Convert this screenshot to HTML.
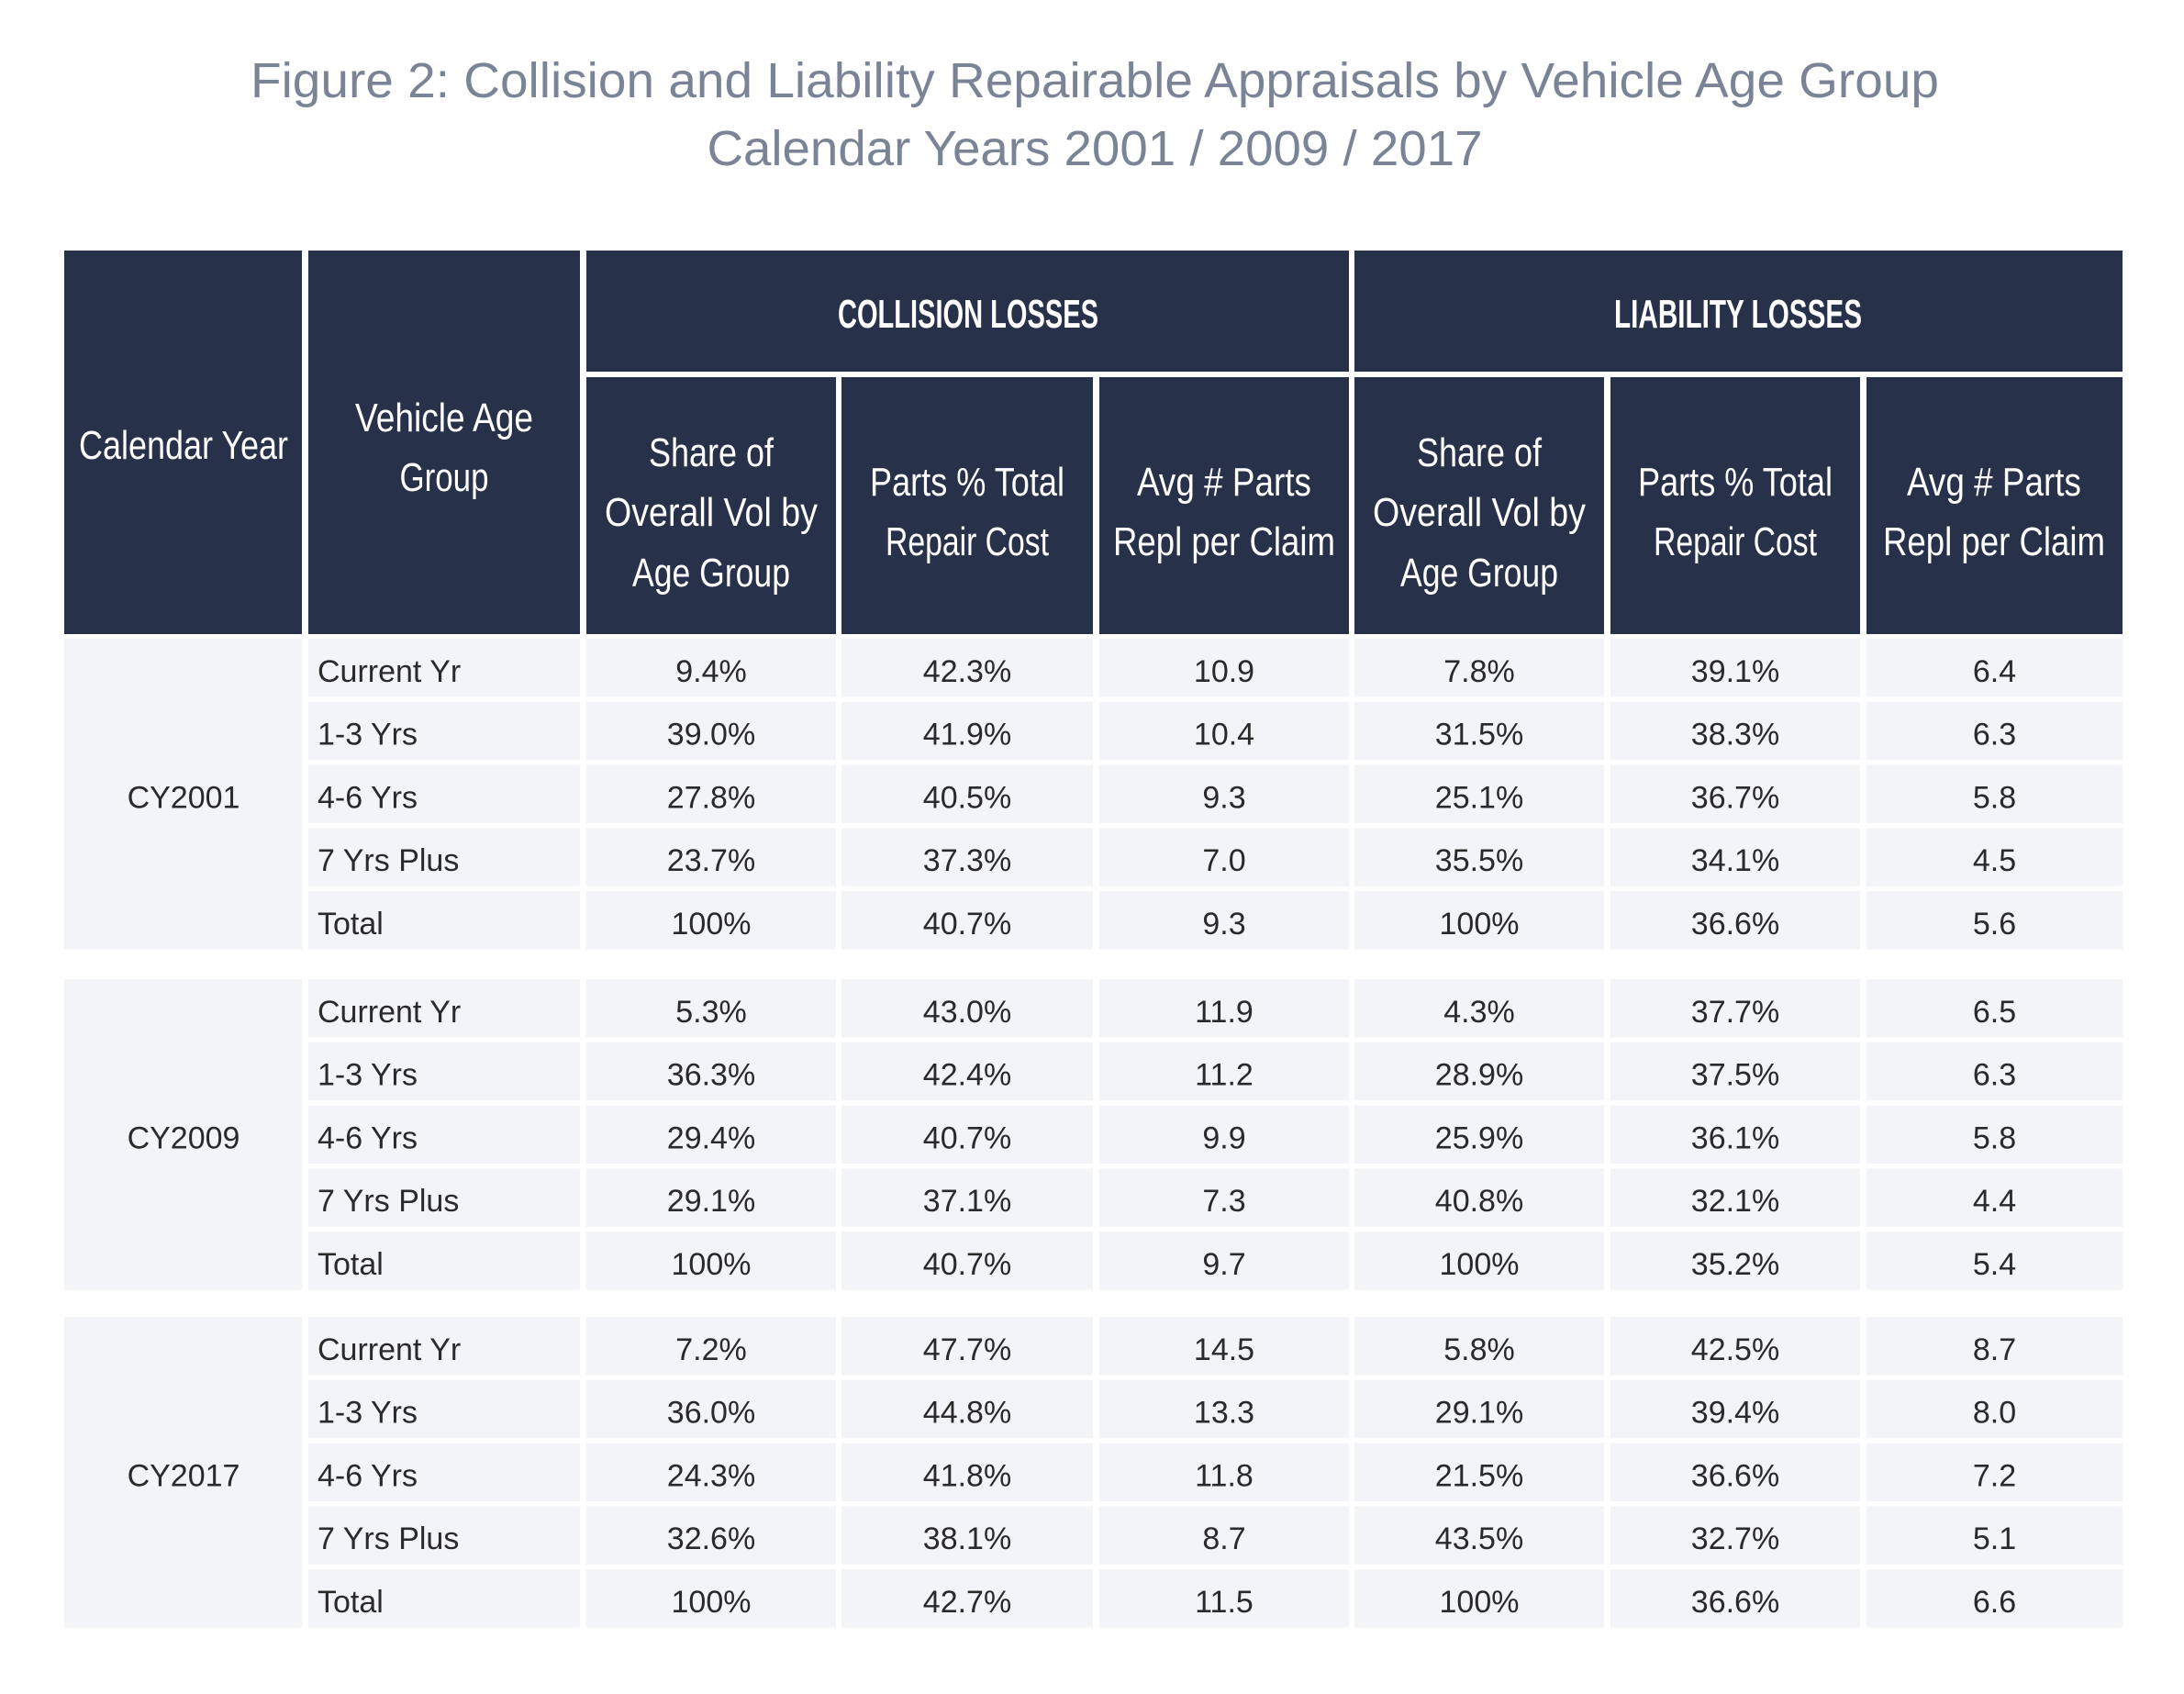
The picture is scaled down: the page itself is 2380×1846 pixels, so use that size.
<!DOCTYPE html>
<html><head><meta charset="utf-8"><style>
html,body{margin:0;padding:0;background:#fff;}
svg{display:block;}
</style></head><body>
<svg width="2380" height="1846" viewBox="0 0 2380 1846" xmlns="http://www.w3.org/2000/svg">
<g font-family="Liberation Sans, sans-serif" fill="#7b8397" font-size="54">
<text x="1193" y="106" text-anchor="middle" textLength="1840" lengthAdjust="spacingAndGlyphs">Figure 2: Collision and Liability Repairable Appraisals by Vehicle Age Group</text>
<text x="1193" y="180" text-anchor="middle" textLength="845" lengthAdjust="spacingAndGlyphs">Calendar Years 2001 / 2009 / 2017</text>
</g>
<g fill="#27324a">
<rect x="70" y="273" width="259" height="418"/>
<rect x="336" y="273" width="296" height="418"/>
<rect x="639" y="273" width="831" height="132"/>
<rect x="1476" y="273" width="837" height="132"/>
<rect x="639" y="411" width="272" height="280"/>
<rect x="917" y="411" width="274" height="280"/>
<rect x="1198" y="411" width="272" height="280"/>
<rect x="1476" y="411" width="272" height="280"/>
<rect x="1755" y="411" width="272" height="280"/>
<rect x="2034" y="411" width="279" height="280"/>
</g>
<g font-family="Liberation Sans Narrow, Liberation Sans, sans-serif" fill="#fff" font-size="44" text-anchor="middle" lengthAdjust="spacingAndGlyphs">
<text x="200" y="500" textLength="228" lengthAdjust="spacingAndGlyphs">Calendar Year</text>
<text x="484" y="470" textLength="194" lengthAdjust="spacingAndGlyphs">Vehicle Age</text>
<text x="484" y="535" textLength="97" lengthAdjust="spacingAndGlyphs">Group</text>
<text x="1055" y="357" font-weight="bold" textLength="284" lengthAdjust="spacingAndGlyphs">COLLISION LOSSES</text>
<text x="1894" y="357" font-weight="bold" textLength="270" lengthAdjust="spacingAndGlyphs">LIABILITY LOSSES</text>
<text x="775" y="508" textLength="136" lengthAdjust="spacingAndGlyphs">Share of</text>
<text x="775" y="573" textLength="232" lengthAdjust="spacingAndGlyphs">Overall Vol by</text>
<text x="775" y="639" textLength="172" lengthAdjust="spacingAndGlyphs">Age Group</text>
<text x="1054" y="540" textLength="212" lengthAdjust="spacingAndGlyphs">Parts % Total</text>
<text x="1054" y="605" textLength="178" lengthAdjust="spacingAndGlyphs">Repair Cost</text>
<text x="1334" y="540" textLength="190" lengthAdjust="spacingAndGlyphs">Avg # Parts</text>
<text x="1334" y="605" textLength="242" lengthAdjust="spacingAndGlyphs">Repl per Claim</text>
<text x="1612" y="508" textLength="136" lengthAdjust="spacingAndGlyphs">Share of</text>
<text x="1612" y="573" textLength="232" lengthAdjust="spacingAndGlyphs">Overall Vol by</text>
<text x="1612" y="639" textLength="172" lengthAdjust="spacingAndGlyphs">Age Group</text>
<text x="1891" y="540" textLength="212" lengthAdjust="spacingAndGlyphs">Parts % Total</text>
<text x="1891" y="605" textLength="178" lengthAdjust="spacingAndGlyphs">Repair Cost</text>
<text x="2173" y="540" textLength="190" lengthAdjust="spacingAndGlyphs">Avg # Parts</text>
<text x="2173" y="605" textLength="242" lengthAdjust="spacingAndGlyphs">Repl per Claim</text>
</g>
<g id="body" font-family="Liberation Sans, sans-serif" font-size="34" fill="#2a2a2a"></g>
</svg>
<script>
(function(){
var ns="http://www.w3.org/2000/svg";
var g=document.getElementById("body");
var cols=[[639,911],[917,1191],[1198,1470],[1476,1748],[1755,2027],[2034,2313]];
var groups=[
 {y:696,name:"CY2001",rows:[
  ["Current Yr","9.4%","42.3%","10.9","7.8%","39.1%","6.4"],
  ["1-3 Yrs","39.0%","41.9%","10.4","31.5%","38.3%","6.3"],
  ["4-6 Yrs","27.8%","40.5%","9.3","25.1%","36.7%","5.8"],
  ["7 Yrs Plus","23.7%","37.3%","7.0","35.5%","34.1%","4.5"],
  ["Total","100%","40.7%","9.3","100%","36.6%","5.6"]]},
 {y:1067,name:"CY2009",rows:[
  ["Current Yr","5.3%","43.0%","11.9","4.3%","37.7%","6.5"],
  ["1-3 Yrs","36.3%","42.4%","11.2","28.9%","37.5%","6.3"],
  ["4-6 Yrs","29.4%","40.7%","9.9","25.9%","36.1%","5.8"],
  ["7 Yrs Plus","29.1%","37.1%","7.3","40.8%","32.1%","4.4"],
  ["Total","100%","40.7%","9.7","100%","35.2%","5.4"]]},
 {y:1435,name:"CY2017",rows:[
  ["Current Yr","7.2%","47.7%","14.5","5.8%","42.5%","8.7"],
  ["1-3 Yrs","36.0%","44.8%","13.3","29.1%","39.4%","8.0"],
  ["4-6 Yrs","24.3%","41.8%","11.8","21.5%","36.6%","7.2"],
  ["7 Yrs Plus","32.6%","38.1%","8.7","43.5%","32.7%","5.1"],
  ["Total","100%","42.7%","11.5","100%","36.6%","6.6"]]}
];
function rect(x,y,w,h){var r=document.createElementNS(ns,"rect");r.setAttribute("x",x);r.setAttribute("y",y);r.setAttribute("width",w);r.setAttribute("height",h);r.setAttribute("fill","#f3f4f8");g.appendChild(r);}
function text(x,y,s,a){var t=document.createElementNS(ns,"text");t.setAttribute("x",x);t.setAttribute("y",y);if(a)t.setAttribute("text-anchor",a);t.textContent=s;g.appendChild(t);}
var P=68.8,H=63.5;
groups.forEach(function(gr){
 var bottom=gr.y+4*P+H;
 rect(70,gr.y,259,bottom-gr.y);
 text(200,(gr.y+bottom)/2+15,gr.name,"middle");
 gr.rows.forEach(function(r,i){
  var y=gr.y+i*P;
  rect(336,y,296,H);
  text(346,y+H/2+15,r[0]);
  cols.forEach(function(c,j){
   rect(c[0],y,c[1]-c[0],H);
   text((c[0]+c[1])/2,y+H/2+15,r[j+1],"middle");
  });
 });
});
})();
</script>
</body></html>
